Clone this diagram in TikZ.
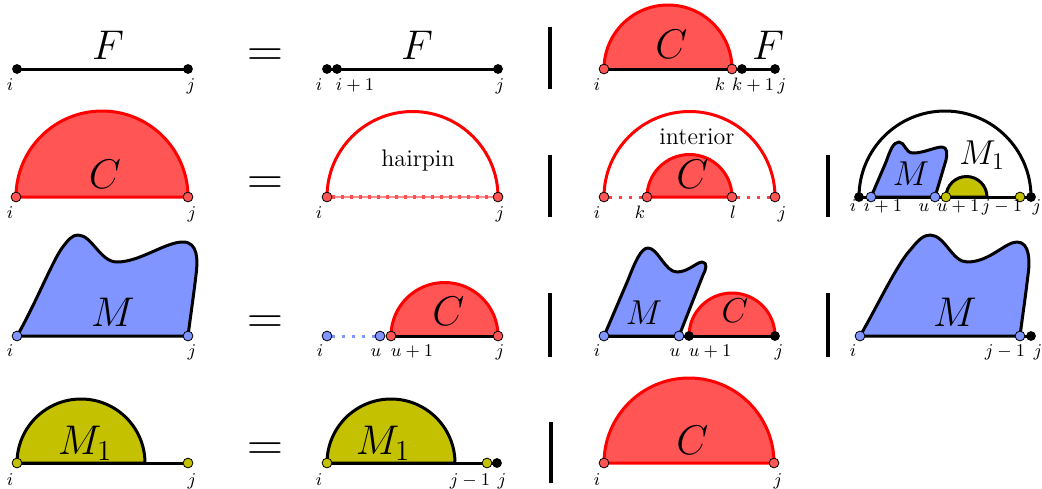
\documentclass[tikz,border=0pt]{standalone}
\definecolor{cfill}{RGB}{255,85,85}
\definecolor{mfill}{RGB}{128,149,255}
\definecolor{ofill}{RGB}{196,194,0}
\pgfdeclarelayer{back}
\pgfsetlayers{back,main}
\tikzset{
  dotbase/.style={circle, inner sep=0pt, minimum size=4.9pt},
  bdot/.style={dotbase, fill=black},
  rdot/.style={dotbase, fill=cfill, draw=black, line width=0.4pt},
  udot/.style={dotbase, fill=mfill, draw=black, line width=0.4pt},
  odot/.style={dotbase, fill=ofill, draw=black, line width=0.4pt},
  lab/.style={anchor=base, inner sep=0pt, font=\fontsize{9.2}{11}\selectfont},
  big/.style={inner sep=0pt, font=\fontsize{19.5}{23}\selectfont},
  mid/.style={inner sep=0pt, font=\fontsize{16.5}{20}\selectfont},
  eqsign/.style={anchor=base, inner sep=0pt, font=\fontsize{26}{30}\selectfont},
  word/.style={anchor=base, inner sep=0pt, font=\fontsize{12}{14}\selectfont},
  bar/.style={line width=1.6pt},
  bline/.style={line width=1.5pt, black},
  rline/.style={line width=1.5pt, red},
  blob/.style={line width=1.5pt, draw=black, fill=mfill, line join=round},
  dome/.style={line width=1.5pt, draw=black, fill=ofill},
  rdots/.style={line width=1.5pt, red!75, dash pattern=on 1.5pt off 3.5pt},
  udots/.style={line width=1.5pt, mfill, dash pattern=on 1.5pt off 3.5pt},
  semi/.style={start angle=180, end angle=360, radius=#1},
}
\begin{document}
\begin{tikzpicture}[x=0.5pt,y=-0.5pt]
\useasboundingbox (0,0) rectangle (1042,488);

%%%%%%%%%%%%%%%% Row 1
\node[bdot] (a1i) at (17,69) {};
\node[bdot] (a1j) at (188,69) {};
\node[bdot] (b1i) at (327,69) {};
\node[bdot] (b1p) at (337,69) {};
\node[bdot] (b1j) at (498,69) {};
\node[rdot] (c1i) at (604,69) {};
\node[rdot] (c1k) at (732,69) {};
\node[bdot] (c1p) at (742,69) {};
\node[bdot] (c1j) at (775,69) {};
\begin{pgfonlayer}{back}
\draw[bline] (a1i.center) -- (a1j.center);
\draw[bline] (b1i.center) -- (b1j.center);
\fill[cfill] (c1i.center) arc[semi=64] -- cycle;
\draw[bline] (c1i.center) -- (c1j.center);
\draw[rline] (c1i.center) arc[semi=64];
\end{pgfonlayer}
\node[big] (F1) at (108,45.5) {$F$};
\node[eqsign] (e1) at (265.5,66) {$=$};
\node[big] (F2) at (417,45) {$F$};
\draw[bar] (550,27) -- (550,89);
\node[big] (C1) at (671.5,44.5) {$C$};
\node[big] (F3) at (768,45) {$F$};
\node[lab] (t101) at (10,90.5) {$i$};
\node[lab] (t102) at (191,90.5) {$j$};
\node[lab] (t103) at (319,90.5) {$i$};
\node[lab] (t104) at (355,90.5) {$i+1$};
\node[lab] (t105) at (500,90.5) {$j$};
\node[lab] (t106) at (597,90.5) {$i$};
\node[lab] (t107) at (720,90.5) {$k$};
\node[lab] (t108) at (753,90.5) {$k+1$};
\node[lab] (t109) at (782,90.5) {$j$};

%%%%%%%%%%%%%%%% Row 2
\node[rdot] (a2i) at (16,197) {};
\node[rdot] (a2j) at (188,197) {};
\node[rdot] (b2i) at (327,197) {};
\node[rdot] (b2j) at (498,197) {};
\node[rdot] (c2i) at (604,197) {};
\node[rdot] (c2k) at (647,197) {};
\node[rdot] (c2l) at (732,197) {};
\node[rdot] (c2j) at (775,197) {};
\node[bdot] (d2i) at (859,197) {};
\node[udot] (d2p) at (871,197) {};
\node[udot] (d2u) at (935,197) {};
\node[odot] (d2q) at (946,197) {};
\node[odot] (d2r) at (1020,197) {};
\node[bdot] (d2j) at (1031,197) {};
\begin{pgfonlayer}{back}
\draw[rline, fill=cfill] (a2i.center) arc[semi=86] -- cycle;
\draw[rline] (b2i.center) arc[semi=85.5];
\draw[line width=1pt, red!45] (b2i) -- (b2j);
\draw[line width=1.6pt, red!70, dash pattern=on 1.5pt off 3pt] (b2i) -- (b2j);
\draw[rline] (c2i.center) arc[semi=85.5];
\draw[rline, fill=cfill] (c2k.center) arc[semi=42.5] -- cycle;
\draw[rdots] (c2i) -- (c2k);
\draw[rdots] (c2l) -- (c2j);
\draw[bline] (d2i.center) arc[semi=86];
\draw[bline] (d2i.center) -- (d2j.center);
\draw[blob] (d2p.center) -- (886,162) .. controls (890,151) and (893,142) .. (899,142)
  .. controls (905,142) and (905,153) .. (913,153)
  .. controls (924,153) and (935,147) .. (942,147)
  .. controls (948,147) and (947,155) .. (946,160) -- (d2u.center) -- cycle;
\draw[dome] (d2q.center) arc[semi=20.5] -- cycle;
\end{pgfonlayer}
\node[big] (C2) at (105,174.5) {$C$};
\node[eqsign] (e2) at (265.5,194) {$=$};
\node[word] (hp) at (418,166) {hairpin};
\draw[bar] (550,155) -- (550,217);
\node[word] (intr) at (697,144) {interior};
\node[big] (C3) at (692.5,174.5) {$C$};
\draw[bar] (828,155) -- (828,217);
\node[mid] (M1) at (911,173.5) {$M$};
\node[mid] (M2) at (982,155.5) {$M_1$};
\node[lab] (t201) at (10,218) {$i$};
\node[lab] (t202) at (192,218) {$j$};
\node[lab] (t203) at (319,218) {$i$};
\node[lab] (t204) at (500,218) {$j$};
\node[lab] (t205) at (597,218) {$i$};
\node[lab] (t206) at (640,218) {$k$};
\node[lab] (t207) at (733,218) {$l$};
\node[lab] (t208) at (782,218) {$j$};
\node[lab] (t209) at (853,211.5) {$i$};
\node[lab] (t210) at (883,211.5) {$i+1$};
\node[lab] (t211) at (924,211.5) {$u$};
\node[lab] (t212) at (958,211.5) {$u+1$};
\node[lab] (t213) at (1002,211.5) {$j-1$};
\node[lab] (t214) at (1037,211.5) {$j$};

%%%%%%%%%%%%%%%% Row 3
\node[udot] (a3i) at (17,336) {};
\node[udot] (a3j) at (188,336) {};
\node[udot] (b3i) at (327,336) {};
\node[udot] (b3u) at (380,336) {};
\node[rdot] (b3p) at (391,336) {};
\node[rdot] (b3j) at (498,336) {};
\node[udot] (c3i) at (604,336) {};
\node[udot] (c3u) at (679,336) {};
\node[bdot] (c3p) at (689,336) {};
\node[bdot] (c3j) at (775,336) {};
\node[udot] (d3i) at (860,336) {};
\node[udot] (d3r) at (1020,336) {};
\node[bdot] (d3j) at (1031,336) {};
\begin{pgfonlayer}{back}
\draw[blob] (a3i.center) .. controls (35,305) and (52,262) .. (62,248)
  .. controls (68,240) and (72,235) .. (78,235)
  .. controls (92,235) and (100,262) .. (117,262)
  .. controls (140,262) and (165,242) .. (183,242)
  .. controls (198,242) and (198,260) .. (196,275)
  .. controls (193,300) and (190,320) .. (a3j.center) -- cycle;
\draw[udots] (b3i) -- (b3u);
\fill[cfill] (b3p.center) arc[semi=53.5] -- cycle;
\draw[bline] (b3p.center) -- (b3j.center);
\draw[rline] (b3p.center) arc[semi=53.5];
\draw[bline] (c3i.center) -- (c3j.center);
\draw[blob] (c3i.center) -- (628,280) .. controls (635,262) and (641,248) .. (648,248)
  .. controls (658,248) and (665,272) .. (677,272)
  .. controls (688,272) and (697,262) .. (702,262)
  .. controls (708,262) and (706,270) .. (703,275) -- (c3u.center) -- cycle;
\fill[cfill] (c3p.center) arc[semi=43] -- cycle;
\draw[bline] (c3p.center) -- (c3j.center);
\draw[rline] (c3p.center) arc[semi=43];
\draw[bline] (d3r.center) -- (d3j.center);
\draw[blob] (d3i.center) .. controls (878,305) and (898,262) .. (912,248)
  .. controls (918,240) and (924,235) .. (930,235)
  .. controls (945,235) and (952,262) .. (967,262)
  .. controls (990,262) and (1005,242) .. (1017,242)
  .. controls (1030,242) and (1030,262) .. (1028,275)
  .. controls (1025,300) and (1022,320) .. (d3r.center) -- cycle;
\end{pgfonlayer}
\node[big] (M3) at (113,312) {$M$};
\node[eqsign] (e3) at (265.5,333) {$=$};
\node[big] (C4) at (448.5,311.5) {$C$};
\draw[bar] (550,293) -- (550,357);
\node[mid] (M4) at (644,312.5) {$M$};
\node[mid] (C5) at (735,310.5) {$C$};
\draw[bar] (828,293) -- (828,357);
\node[big] (M5) at (955,312) {$M$};
\node[lab] (t301) at (10,356.5) {$i$};
\node[lab] (t302) at (192,356.5) {$j$};
\node[lab] (t303) at (320,356.5) {$i$};
\node[lab] (t304) at (376,356.5) {$u$};
\node[lab] (t305) at (412,356.5) {$u+1$};
\node[lab] (t306) at (500,356.5) {$j$};
\node[lab] (t307) at (597,356.5) {$i$};
\node[lab] (t308) at (675,356.5) {$u$};
\node[lab] (t309) at (710,356.5) {$u+1$};
\node[lab] (t310) at (779,356.5) {$j$};
\node[lab] (t311) at (853,356.5) {$i$};
\node[lab] (t312) at (1005,356.5) {$j-1$};
\node[lab] (t313) at (1038,356.5) {$j$};

%%%%%%%%%%%%%%%% Row 4
\node[odot] (a4i) at (17,463) {};
\node[odot] (a4j) at (188,463) {};
\node[odot] (b4i) at (327,463) {};
\node[odot] (b4r) at (487,463) {};
\node[bdot] (b4j) at (497,463) {};
\node[rdot] (c4i) at (604,463) {};
\node[rdot] (c4j) at (774,463) {};
\begin{pgfonlayer}{back}
\draw[bline] (a4i.center) -- (a4j.center);
\draw[dome] (a4i.center) arc[semi=64] -- cycle;
\draw[bline] (b4i.center) -- (b4j.center);
\draw[dome] (b4i.center) arc[semi=64] -- cycle;
\draw[rline, fill=cfill] (c4i.center) arc[semi=85] -- cycle;
\end{pgfonlayer}
\node[big] (M6) at (85,443) {$M_1$};
\node[eqsign] (e4) at (265.5,460) {$=$};
\node[big] (M7) at (383,443) {$M_1$};
\draw[bar] (551,422) -- (551,483);
\node[big] (C6) at (692.5,440) {$C$};
\node[lab] (t401) at (10,485.5) {$i$};
\node[lab] (t402) at (192,485.5) {$j$};
\node[lab] (t403) at (319,485.5) {$i$};
\node[lab] (t404) at (470,485.5) {$j-1$};
\node[lab] (t405) at (502,485.5) {$j$};
\node[lab] (t406) at (597,485.5) {$i$};
\node[lab] (t407) at (778,485.5) {$j$};
\end{tikzpicture}
\end{document}
